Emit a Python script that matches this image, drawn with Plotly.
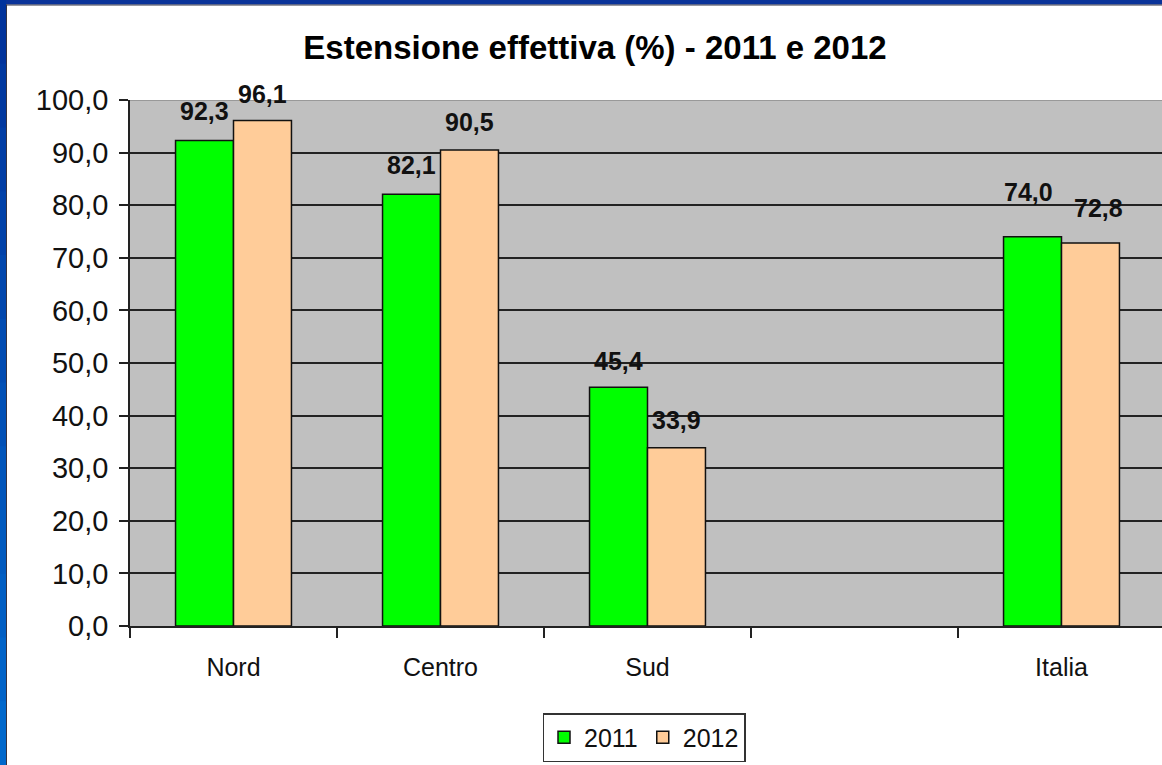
import plotly.graph_objects as go

# ---- data ----
categories = ["Nord", "Centro", "Sud", " ", "Italia"]
series_names = ["2011", "2012"]
values_2011 = [92.3, 82.1, 45.4, None, 74.0]
values_2012 = [96.1, 90.5, 33.9, None, 72.8]
y_ticks = [0, 10, 20, 30, 40, 50, 60, 70, 80, 90, 100]
title_text = "Estensione effettiva (%) - 2011 e 2012"

# ---- style: label offsets (pixels) per category, as placed in the original ----
label_dy_2011 = [30, 29, 26, 0, 45]
label_dy_2012 = [27, 28, 28, 0, 35]
label_dx_2011 = [0, 0, 0, 0, -4]
label_dx_2012 = [0, 0, 0, 0, 8]

# ---- layout constants (pixels) ----
W, H = 1162, 765
ML, MR, MT, MB = 130, 0, 100, 139
PW, PH = W - ML - MR, H - MT - MB
CAT_PX = 207.0


def px2x(px):
    return (px - ML) / PW


def py2y(py):
    return (H - MB - py) / PH


FONT = "Liberation Sans, Arial, sans-serif"
GREEN = "#00ff00"
PEACH = "#ffcc99"

fig = go.Figure()
for name, vals, col in [(series_names[0], values_2011, GREEN),
                        (series_names[1], values_2012, PEACH)]:
    fig.add_trace(go.Bar(
        name=name, x=categories, y=vals,
        marker=dict(color=col, line=dict(color="#111111", width=1.5)),
    ))

# data labels
half_bar = CAT_PX * 0.28 / 2
for vals, sh, dys, dxs in [(values_2011, -half_bar, label_dy_2011, label_dx_2011),
                           (values_2012, half_bar, label_dy_2012, label_dx_2012)]:
    for c, v, dy, dx in zip(categories, vals, dys, dxs):
        if v is None:
            continue
        fig.add_annotation(
            x=c, y=v, xref="x", yref="y",
            text=f"{v:.1f}".replace(".", ","),
            showarrow=False, xshift=sh + dx, yshift=dy,
            yanchor="middle", xanchor="center",
            font=dict(family=FONT, size=25, color="#111111", weight="bold"),
        )

shapes = []
# top border of plot area (gray)
shapes.append(dict(type="line", xref="paper", yref="y", x0=0, x1=1, y0=100, y1=100,
                   line=dict(color="#8c8c8c", width=1.5), layer="below"))
# blue frame: top band
shapes.append(dict(type="rect", xref="paper", yref="paper",
                   x0=px2x(0), x1=px2x(W + 5), y0=py2y(4.5), y1=py2y(-1),
                   fillcolor="#0a3399", line=dict(width=0), layer="above"))
shapes.append(dict(type="line", xref="paper", yref="paper",
                   x0=px2x(6), x1=px2x(W + 5), y0=py2y(5), y1=py2y(5),
                   line=dict(color="#333344", width=1), layer="above"))
# blue frame: left band with vertical gradient
n = 12
c0 = (0x00, 0x33, 0x9c)
c1 = (0x00, 0x68, 0xcc)
for i in range(n):
    t = i / (n - 1)
    col = "rgb(%d,%d,%d)" % tuple(round(a + (b - a) * t) for a, b in zip(c0, c1))
    ya = i * H / n
    yb = (i + 1) * H / n + 1
    shapes.append(dict(type="rect", xref="paper", yref="paper",
                       x0=px2x(-1), x1=px2x(6), y0=py2y(yb), y1=py2y(ya),
                       fillcolor=col, line=dict(width=0), layer="above"))
shapes.append(dict(type="line", xref="paper", yref="paper",
                   x0=px2x(6.5), x1=px2x(6.5), y0=py2y(H + 2), y1=py2y(4.5),
                   line=dict(color="#333344", width=1), layer="above"))

fig.update_layout(
    width=W, height=H,
    margin=dict(l=ML, r=MR, t=MT, b=MB, pad=0),
    paper_bgcolor="white",
    plot_bgcolor="#c0c0c0",
    barmode="group",
    bargap=0.44,
    bargroupgap=0,
    font=dict(family=FONT, color="#000000"),
    title=dict(text=title_text, x=595 / W, xref="container", xanchor="center",
               y=1 - 47 / H, yref="container", yanchor="middle",
               font=dict(family=FONT, size=33, color="#000000", weight="bold")),
    xaxis=dict(
        type="category", categoryorder="array", categoryarray=categories,
        range=[-0.5, -0.5 + PW / CAT_PX],
        showline=True, linecolor="#222222", linewidth=1.5,
        ticks="outside", ticklen=10, tickwidth=1.5, tickcolor="#222222",
        tickson="boundaries", showgrid=False, zeroline=False,
        tickfont=dict(family=FONT, size=25, color="#111111"),
        ticklabelstandoff=18,
    ),
    yaxis=dict(
        range=[0, 100], tickmode="array", tickvals=y_ticks,
        tickformat=".1f",
        showline=True, linecolor="#222222", linewidth=1.5,
        ticks="outside", ticklen=9, tickwidth=1.5, tickcolor="#222222",
        showgrid=False, zeroline=False,
        minor=dict(tickvals=y_ticks[1:-1], showgrid=True, gridcolor="#222222",
                   gridwidth=1.5, ticks=""),
        tickfont=dict(family=FONT, size=29, color="#111111"),
        ticklabelstandoff=5,
    ),
    separators=",.",
    showlegend=True,
    legend=dict(
        orientation="h", x=px2x(644), xanchor="center",
        y=py2y(713), yanchor="top",
        bgcolor="white", bordercolor="#333333", borderwidth=1.5,
        font=dict(family=FONT, size=25, color="#111111"),
        itemwidth=30,
    ),
    shapes=shapes,
)

fig.write_html("out.html")
